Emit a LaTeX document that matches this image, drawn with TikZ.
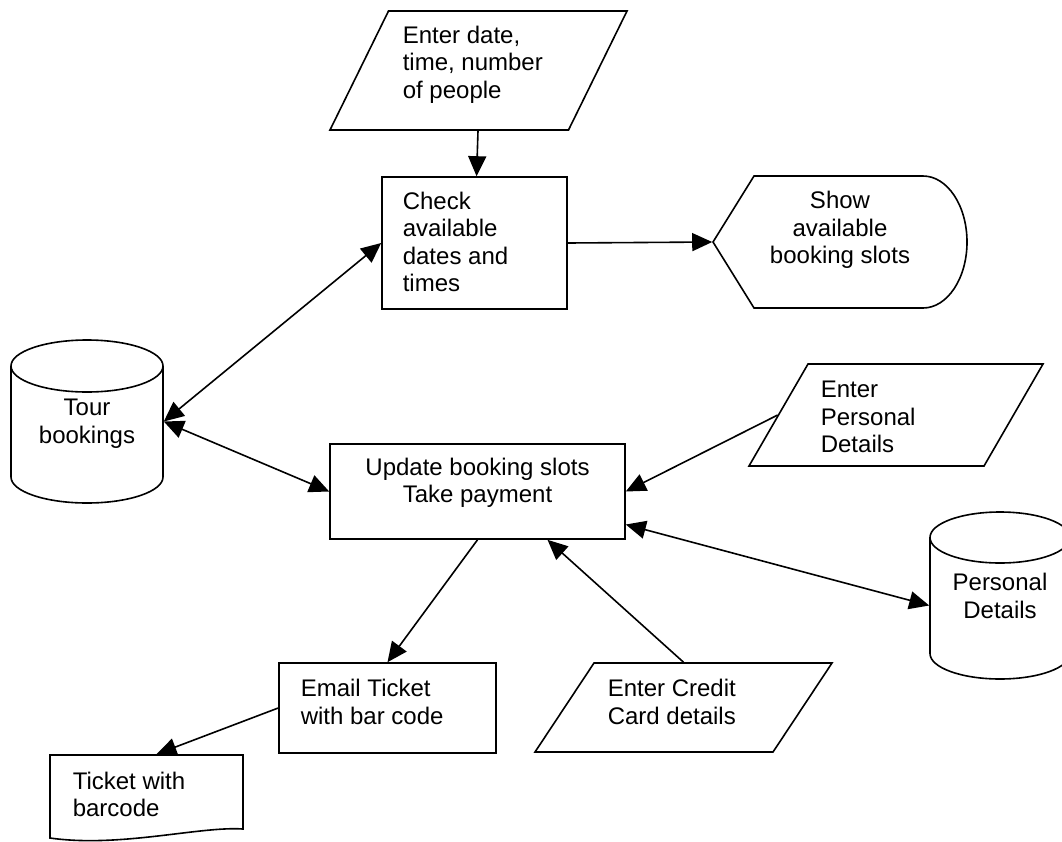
\documentclass[tikz,border=0pt]{standalone}
\usepackage{fontspec}
\setmainfont{Liberation Sans}
\usetikzlibrary{arrows.meta}

\begin{document}
\begin{tikzpicture}[x=1pt, y=-1pt, line width=1.6pt,
		box/.style={draw, rectangle, inner sep=0pt},
		spot/.style={rectangle, inner sep=0pt},
		txt/.style={font=\fontsize{24}{27.5}\selectfont, inner sep=0pt},
		flow/.style={-{Triangle[length=20pt, width=18pt]}},
		both/.style={{Triangle[length=20pt, width=18pt]}-{Triangle[length=20pt, width=18pt]}}]
	\useasboundingbox (0,0) rectangle (1062,841);
	% shapes
	\node[spot, minimum width=297, minimum height=119] (tpara) at (478,70.5) {};
	\draw (330,130) -- (388.5,11) -- (627,11) -- (568.5,130) -- cycle;
	\node[box, minimum width=185, minimum height=132] (check) at (474.5,243) {};
	\node[spot, minimum width=254, minimum height=132] (disp) at (840,242) {};
	\draw (713,242) -- (754,176) -- (923,176) arc[start angle=-90, end angle=90, x radius=44, y radius=66] -- (754,308) -- cycle;
	\node[spot, minimum width=152, minimum height=163] (tour) at (87,421.5) {};
	\draw (11,366) -- (11,477) arc[start angle=180, end angle=0, x radius=76, y radius=26] -- (163,366);
	\draw (87,366) ellipse[x radius=76, y radius=26];
	\node[box, minimum width=295, minimum height=95] (update) at (477.5,491.5) {};
	\node[spot, minimum width=294, minimum height=102] (ppara) at (896,415) {};
	\draw (749,466) -- (808,364) -- (1043,364) -- (984,466) -- cycle;
	\node[spot, minimum width=140, minimum height=167] (pcyl) at (1000,595.5) {};
	\draw (930,537.5) -- (930,653.5) arc[start angle=180, end angle=0, x radius=70, y radius=25.5] -- (1070,537.5);
	\draw (1000,537.5) ellipse[x radius=70, y radius=25.5];
	\node[box, minimum width=217, minimum height=90] (email) at (387.5,708) {};
	\node[spot, minimum width=297, minimum height=89] (cpara) at (683.5,707.5) {};
	\draw (535,752) -- (594,663) -- (832,663) -- (773,752) -- cycle;
	\node[spot, minimum width=193, minimum height=83] (ticket) at (146.5,796.5) {};
	\draw (50,755) -- (243,755) -- (243,829) .. controls (200,826) and (120,848) .. (50,838) -- cycle;
	% texts
	\node[txt, anchor=west, align=left] (tpara-t) at (402,64.5) {Enter date,\\time, number\\of people};
	\node[txt, anchor=west, align=left] (check-t) at (402,242) {Check\\available\\dates and\\times};
	\node[txt, align=center] (disp-t) at (840,230) {Show\\available\\booking slots};
	\node[txt, align=center] (tour-t) at (87,423.5) {Tour\\bookings};
	\node[txt, align=center] (update-t) at (477.5,483) {Update booking slots\\Take payment};
	\node[txt, anchor=west, align=left] (ppara-t) at (820,417) {Enter\\Personal\\Details};
	\node[txt, align=center] (pcyl-t) at (1000,596) {Personal\\Details};
	\node[txt, anchor=west, align=left] (email-t) at (300,702) {Email Ticket\\with bar code};
	\node[txt, anchor=west, align=left] (cpara-t) at (607,702) {Enter Credit\\Card details};
	\node[txt, anchor=west, align=left] (ticket-t) at (72,794.5) {Ticket with\\barcode};
	% connectors
	\draw[flow] (tpara.south) -- (check);
	\draw[flow] (check.east) -- (disp.west);
	\draw[both] (check.west) -- (tour.east);
	\draw[both] (tour.east) -- (update.west);
	\draw[flow] ([xshift=29.5pt]ppara.west) -- (update.east);
	\draw[both] ([yshift=-10pt]pcyl.west) -- ([yshift=-33pt]update.east);
	\draw[flow] (update.south) -- (email.north);
	\draw[flow] (cpara.north) -- ([xshift=70pt]update.south);
	\draw[flow] (email.west) -- ([xshift=10pt]ticket.north);
\end{tikzpicture}
\end{document}
